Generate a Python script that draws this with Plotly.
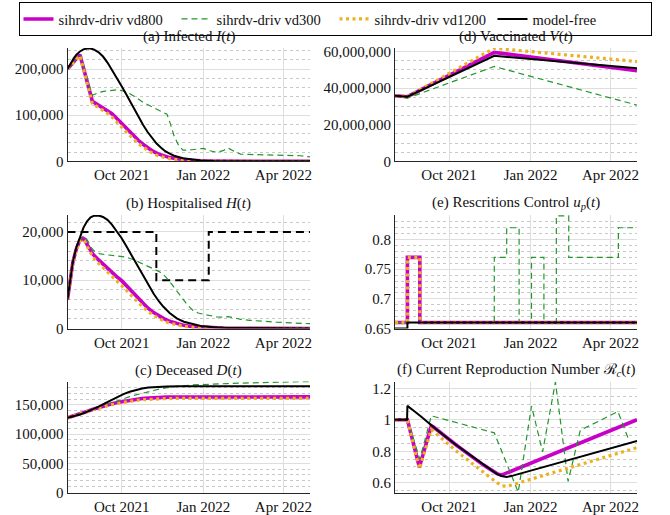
import pandas as pd
import plotly.graph_objects as go

START = "2021-08-01"
X_END = "2022-05-01"
x_tick_vals = ["2021-10-01", "2022-01-01", "2022-04-01"]
x_tick_text = ["Oct 2021", "Jan 2022", "Apr 2022"]

series_names = ["sihrdv-driv vd800", "sihrdv-driv vd300", "sihrdv-driv vd1200", "model-free"]

# ---------- (a) Infected I(t) ----------
I_free_days = [0, 4, 7, 10, 14, 18, 22, 26, 30, 35, 40, 45, 50, 55, 60, 65, 70, 75, 80, 85, 90, 95, 100, 105, 110, 115, 120, 130, 140, 150, 165, 180, 273]
I_free = [200000, 214000, 223000, 231000, 238000, 242500, 244500, 244500, 242000, 236000, 227000, 214000, 199000, 183000, 166000, 149000, 131000, 113000, 96000, 79000, 64000, 51000, 39000, 30000, 22000, 16500, 12000, 6500, 3500, 2000, 800, 300, 0]
I_800_days = [0, 7, 14, 28, 32, 36, 40, 45, 50, 55, 61, 67, 74, 80, 85, 90, 96, 102, 108, 115, 123, 130, 140, 155, 175, 273]
I_800 = [200000, 216000, 231000, 130000, 125000, 121000, 117000, 111000, 103000, 94000, 82000, 70000, 56000, 45000, 37000, 30000, 22000, 16000, 12000, 8000, 5500, 3500, 2000, 800, 300, 0]
I_1200_days = [0, 7, 14, 28, 32, 36, 40, 45, 50, 55, 61, 67, 74, 80, 85, 90, 96, 102, 108, 115, 123, 130, 140, 155, 175, 273]
I_1200 = [200000, 215000, 229000, 125000, 120000, 116000, 111000, 104000, 96000, 87000, 74000, 62000, 49000, 38000, 31000, 24000, 17000, 12000, 8500, 5500, 3500, 2200, 1200, 500, 200, 0]
I_300_days = [0, 7, 14, 28, 35, 42, 50, 56, 61, 67, 75, 85, 95, 104, 112, 116, 120, 125, 130, 140, 153, 160, 168, 175, 181, 188, 195, 210, 230, 250, 262, 273]
I_300 = [200000, 216000, 231000, 143000, 149000, 152000, 154500, 155000, 153000, 150000, 141000, 128000, 118000, 110000, 102000, 80000, 55000, 35000, 24000, 25000, 28000, 23000, 19500, 23000, 28500, 21000, 15500, 14500, 14000, 13500, 12000, 9500]

# ---------- (b) Hospitalised H(t) ----------
H_free_days = [0, 3, 6, 10, 14, 18, 22, 26, 30, 35, 40, 45, 50, 55, 61, 67, 74, 80, 85, 90, 97, 103, 108, 115, 123, 131, 141, 150, 165, 180, 273]
H_free = [6000, 10500, 13800, 16800, 19000, 20900, 22200, 23000, 23350, 23400, 23100, 22500, 21500, 20300, 18700, 16800, 14600, 12600, 10900, 9300, 7200, 5600, 4500, 3200, 2100, 1400, 850, 500, 250, 120, 0]
H_800_days = [0, 3, 6, 10, 14, 17, 19, 22, 26, 29, 35, 40, 45, 50, 55, 61, 67, 74, 80, 85, 90, 97, 103, 108, 115, 123, 131, 141, 155, 175, 273]
H_800 = [6000, 10500, 13700, 16500, 18300, 18700, 18500, 17400, 16000, 15300, 14200, 13300, 12500, 11600, 10800, 9900, 8700, 7300, 6100, 5200, 4300, 3300, 2600, 2100, 1500, 1000, 650, 380, 180, 70, 0]
H_1200_days = [0, 3, 6, 10, 14, 17, 19, 22, 26, 29, 35, 40, 45, 50, 55, 61, 67, 74, 80, 85, 90, 97, 103, 108, 115, 123, 131, 141, 155, 175, 273]
H_1200 = [6000, 10400, 13500, 16300, 18100, 18400, 18200, 17000, 15500, 14700, 13500, 12600, 11700, 10800, 9900, 9000, 7800, 6400, 5300, 4400, 3600, 2700, 2000, 1600, 1100, 700, 450, 250, 110, 40, 0]
H_300_days = [0, 3, 6, 10, 14, 18, 20, 23, 27, 31, 36, 42, 50, 58, 66, 75, 85, 95, 104, 110, 115, 120, 125, 130, 135, 141, 147, 153, 160, 168, 175, 181, 188, 195, 205, 216, 235, 255, 273]
H_300 = [6000, 10500, 13700, 16500, 18400, 19000, 19100, 18000, 16700, 15900, 15500, 15300, 15150, 15000, 14800, 14200, 13400, 12500, 11700, 10800, 9700, 8500, 7300, 6100, 4900, 3800, 3200, 2950, 2700, 2400, 2350, 2450, 2200, 1900, 1700, 1500, 1300, 1150, 1000]
H_cap_days = [0, 100, 159, 273]
H_cap = [20000, 10000, 20000, 20000]

# ---------- (c) Deceased D(t) ----------
D_free_days = [0, 7, 14, 21, 28, 35, 42, 49, 56, 63, 70, 77, 84, 91, 98, 105, 112, 126, 273]
D_free = [128000, 130500, 133500, 137500, 142000, 147000, 152500, 158000, 163500, 168500, 172500, 175800, 178000, 179600, 180600, 181200, 181500, 181700, 181700]
D_800_days = [0, 7, 14, 21, 28, 35, 42, 49, 56, 63, 70, 77, 84, 91, 98, 112, 126, 273]
D_800 = [128000, 131000, 134500, 138300, 142000, 145500, 148500, 151500, 154000, 156000, 158000, 159500, 160800, 161800, 162500, 163200, 163500, 163600]
D_1200_days = [0, 7, 14, 21, 28, 35, 42, 49, 56, 63, 70, 77, 84, 91, 98, 112, 126, 273]
D_1200 = [128000, 131000, 134500, 138000, 141600, 144800, 147500, 150000, 152300, 154300, 156200, 157700, 158800, 159600, 160200, 160800, 161100, 161300]
D_300_days = [0, 7, 14, 21, 28, 35, 42, 49, 56, 63, 70, 77, 84, 91, 98, 105, 112, 123, 140, 153, 180, 210, 240, 273]
D_300 = [128000, 131000, 134500, 138300, 142200, 146000, 150000, 153800, 157000, 160500, 164000, 167000, 170000, 172500, 175000, 177500, 179500, 181800, 184000, 185000, 186500, 187800, 189000, 190000]

# ---------- (d) Vaccinated V(t) ----------
V_days = [0, 14, 112, 273]
V_800 = [35800000, 35300000, 59500000, 49500000]
V_300 = [35800000, 34500000, 51800000, 30700000]
V_1200 = [35800000, 35300000, 61800000, 54500000]
V_free = [35800000, 35300000, 57600000, 50900000]

# ---------- (e) Restrictions control u_p(t) ----------
U_800_days = [0, 14, 28, 273]
U_800 = [0.66, 0.77, 0.66, 0.66]
U_1200_days = [0, 14, 28, 273]
U_1200 = [0.66, 0.77, 0.66, 0.66]
U_300_days = [0, 112, 126, 140, 154, 168, 182, 196, 252, 273]
U_300 = [0.66, 0.77, 0.82, 0.66, 0.77, 0.66, 0.84, 0.77, 0.82, 0.82]
U_free_days = [0, 14, 273]
U_free = [0.65, 0.66, 0.66]

# ---------- (f) Current reproduction number R_c(t) ----------
R_free_days = [0, 13.6, 14, 18, 24, 30, 43, 69, 99, 110, 115, 120, 126, 133, 273]
R_free = [1.0, 1.0, 1.088, 1.072, 1.045, 1.018, 0.955, 0.84, 0.715, 0.675, 0.656, 0.643, 0.637, 0.645, 0.866]
R_800_days = [0, 14, 27.5, 41, 43, 69, 99, 110, 115, 120, 273]
R_800 = [1.0, 1.0, 0.698, 0.962, 0.955, 0.84, 0.715, 0.675, 0.658, 0.648, 1.0]
R_1200_days = [0, 14, 27.5, 41, 69, 99, 110, 116, 121, 127, 273]
R_1200 = [1.0, 1.0, 0.688, 0.938, 0.802, 0.667, 0.622, 0.597, 0.580, 0.578, 0.823]
R_300_days = [0, 14, 28, 41, 112, 139, 154, 166.5, 181, 195.3, 209, 251.5, 263.5]
R_300 = [1.0, 1.0, 0.75, 1.025, 0.917, 0.54, 1.0875, 0.796, 1.24, 0.608, 0.933, 1.052, 0.875]

# ---------- styles ----------
C800, C300, C1200, CFREE = "#c800c8", "#22962a", "#edb120", "#000000"
styles = {
    "800": dict(color=C800, width=3.6),
    "300": dict(color=C300, width=1.2, dash="6px,4px"),
    "1200": dict(color=C1200, width=3.2, dash="3px,3.5px"),
    "free": dict(color=CFREE, width=2),
}
FONT = "Liberation Serif"
W, H = 670, 515


def to_dates(days):
    return pd.Timestamp(START) + pd.to_timedelta(pd.Series(days, dtype=float), unit="D")


fig = go.Figure()

panels = [
    ("a", "x", "y", [(I_800_days, I_800, "800"), (I_300_days, I_300, "300"), (I_1200_days, I_1200, "1200"), (I_free_days, I_free, "free")]),
    ("b", "x2", "y2", [(H_800_days, H_800, "800"), (H_300_days, H_300, "300"), (H_1200_days, H_1200, "1200"), (H_free_days, H_free, "free")]),
    ("c", "x3", "y3", [(D_800_days, D_800, "800"), (D_300_days, D_300, "300"), (D_1200_days, D_1200, "1200"), (D_free_days, D_free, "free")]),
    ("d", "x4", "y4", [(V_days, V_800, "800"), (V_days, V_300, "300"), (V_days, V_1200, "1200"), (V_days, V_free, "free")]),
    ("e", "x5", "y5", [(U_800_days, U_800, "800"), (U_300_days, U_300, "300"), (U_1200_days, U_1200, "1200"), (U_free_days, U_free, "free")]),
    ("f", "x6", "y6", [(R_800_days, R_800, "800"), (R_300_days, R_300, "300"), (R_1200_days, R_1200, "1200"), (R_free_days, R_free, "free")]),
]
name_of = {"800": series_names[0], "300": series_names[1], "1200": series_names[2], "free": series_names[3]}

for key, xa, ya, series in panels:
    if key == "b":
        fig.add_trace(go.Scatter(x=to_dates(H_cap_days), y=H_cap, mode="lines", line=dict(color="#000000", width=2, dash="8px,5px", shape="hv"),
                                 xaxis=xa, yaxis=ya, showlegend=False, hoverinfo="skip"))
    for days, vals, k in series:
        ln = dict(styles[k])
        if key == "e":
            ln["shape"] = "hv"
        fig.add_trace(go.Scatter(x=to_dates(days), y=vals, mode="lines", line=ln, name=name_of[k],
                                 xaxis=xa, yaxis=ya, showlegend=(key == "a"), legendgroup=k))


def px_x(p):
    return p / W


def px_y(p):
    return 1 - p / H


left = [px_x(67.5), px_x(310)]
right = [px_x(395), px_x(637)]
rows = [[px_y(161.3), px_y(48)], [px_y(328.5), px_y(215)], [px_y(492.5), px_y(381.5)]]

AX = "#262626"
GRID = "#dedede"
MINOR = "#c8c8c8"


def xaxis(domain, anchor):
    return dict(domain=domain, anchor=anchor, type="date", range=[START, X_END], tickvals=x_tick_vals, ticktext=x_tick_text,
                showgrid=True, gridcolor=GRID, gridwidth=1, showline=True, linecolor=AX, linewidth=1, zeroline=False,
                ticks="", ticklen=0, automargin=False, tickfont=dict(family=FONT, size=15, color="#111"))


def yaxis(domain, anchor, rng, dtick, minor, tickvals=None, ticktext=None, fmt=",d"):
    d = dict(domain=domain, anchor=anchor, range=rng, showgrid=True, gridcolor=GRID, gridwidth=1, showline=True, linecolor=AX,
             linewidth=1, zeroline=False, ticks="", ticklen=0, automargin=False, tickfont=dict(family=FONT, size=15, color="#111"),
             minor=dict(dtick=minor, showgrid=True, gridcolor=MINOR, griddash="dot", gridwidth=1))
    if tickvals is not None:
        d.update(tickvals=tickvals, ticktext=ticktext, tickmode="array")
        d["minor"]["tick0"] = rng[0]
    else:
        d.update(dtick=dtick, tickformat=fmt, tick0=0)
    return d


fig.update_layout(
    width=W, height=H, margin=dict(l=0, r=0, t=0, b=0, autoexpand=False), autosize=False,
    plot_bgcolor="white", paper_bgcolor="white",
    font=dict(family=FONT, size=15, color="#111"),
    xaxis=xaxis(left, "y"), yaxis=yaxis(rows[0], "x", [0, 245500], 100000, 20000),
    xaxis2=xaxis(left, "y2"), yaxis2=yaxis(rows[1], "x2", [0, 23500], 10000, 2000),
    xaxis3=xaxis(left, "y3"), yaxis3=yaxis(rows[2], "x3", [0, 190000], 50000, 10000),
    xaxis4=xaxis(right, "y4"), yaxis4=yaxis(rows[0], "x4", [0, 61900000], 20000000, 5000000),
    xaxis5=xaxis(right, "y5"), yaxis5=yaxis(rows[1], "x5", [0.65, 0.8415], None, 0.01, [0.65, 0.7, 0.75, 0.8], ["0.65", "0.7", "0.75", "0.8"]),
    xaxis6=xaxis(right, "y6"), yaxis6=yaxis(rows[2], "x6", [0.538, 1.243], None, 0.05, [0.6, 0.8, 1.0, 1.2], ["0.6", "0.8", "1", "1.2"]),
    legend=dict(orientation="h", x=0.5, xanchor="center", y=px_y(2), yanchor="top", bordercolor="#000", borderwidth=1,
                bgcolor="white", font=dict(family=FONT, size=14.5, color="#111"), entrywidth=113, entrywidthmode="pixels",
                tracegroupgap=0),
    showlegend=True,
)
fig.update_layout(yaxis5_minor_tick0=0.65, yaxis6_minor_tick0=0.6)

titles = [
    ("(a) Infected <i>I</i>(<i>t</i>)", left, rows[0]),
    ("(b) Hospitalised <i>H</i>(<i>t</i>)", left, rows[1]),
    ("(c) Deceased <i>D</i>(<i>t</i>)", left, rows[2]),
    ("(d) Vaccinated <i>V</i>(<i>t</i>)", right, rows[0]),
    ("(e) Rescritions Control <i>u</i><sub><i>p</i></sub>(<i>t</i>)", right, rows[1]),
    ("(f) Current Reproduction Number \u211b<sub><i>c</i></sub>(<i>t</i>)", right, rows[2]),
]
for text, xd, yd in titles:
    fig.add_annotation(text=text, x=(xd[0] + xd[1]) / 2, y=yd[1], xref="paper", yref="paper", xanchor="center", yanchor="bottom",
                       yshift=1, showarrow=False, font=dict(family=FONT, size=15, color="#111"))

fig.write_html("out.html", config={"displayModeBar": False},
               post_script="document.body.style.margin='0px';document.body.style.padding='0px';")
